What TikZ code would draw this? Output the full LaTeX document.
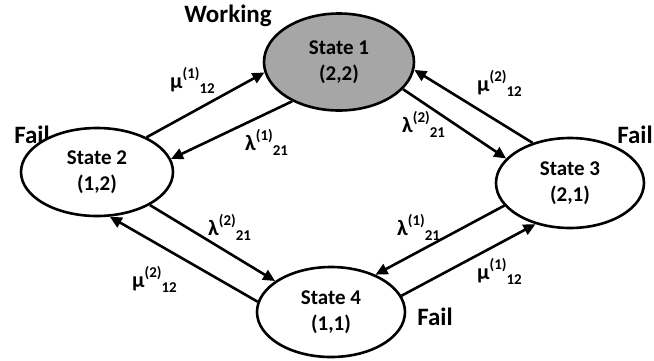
\documentclass[tikz,border=0pt]{standalone}
\usepackage{fontspec}
\setmainfont{Carlito}
\usetikzlibrary{shapes.geometric,arrows.meta}
\definecolor{workfill}{HTML}{A6A6A6}
% rate label: symbol, superscript index, subscript pair
\newcommand{\ratelbl}[3]{#1\raisebox{10pt}{\fontsize{15}{15}\selectfont(#2)}\raisebox{-5pt}{\fontsize{15}{15}\selectfont #3}}
\begin{document}
\begin{tikzpicture}[x=1pt,y=-1pt,
  statenode/.style={ellipse,draw=black,line width=2.6pt,fill=white,inner sep=0pt,
    align=center,font=\fontsize{21}{26}\selectfont\bfseries},
  flow/.style={line width=2.6pt,-{Triangle[length=12pt,width=11pt]}},
  ratetext/.style={anchor=base west,inner sep=0pt,font=\fontsize{22}{24}\selectfont\bfseries},
  tagtext/.style={anchor=base,inner sep=0pt,font=\fontsize{25}{28}\selectfont\bfseries}]
\useasboundingbox (0,0) rectangle (654,360);

% status tags (placed first so the state ellipses sit on top of them)
\node[tagtext] (tw) at (228,22) {Working};
\node[tagtext] (t2) at (32,143) {Fail};
\node[tagtext] (t3) at (635,143) {Fail};
\node[tagtext] (t4) at (435,325) {Fail};

% states
\node[statenode,fill=workfill,minimum width=150pt,minimum height=97pt] (s1) at (339,62) {State 1\\(2,2)};
\node[statenode,minimum width=152pt,minimum height=88pt] (s2) at (97,172) {State 2\\(1,2)};
\node[statenode,minimum width=148pt,minimum height=90pt] (s3) at (570,183) {State 3\\(2,1)};
\node[statenode,minimum width=148pt,minimum height=90pt] (s4) at (331,312) {State 4\\(1,1)};

% transitions
\draw[flow] (s2.35) -- (s1.188);
\draw[flow] (s1.220) -- (s2.10);
\draw[flow] (s3.133) -- (s1.354);
\draw[flow] (s1.337) -- (s3.159);
\draw[flow] (s2.328) -- (s4.151);
\draw[flow] (s4.172) -- (s2.286);
\draw[flow] (s3.199) -- (s4.40);
\draw[flow] (s4.13) -- (s3.230);

% rates
\node[ratetext] (r1) at (170,88) {\ratelbl{μ}{1}{12}};
\node[ratetext] (r2) at (245,150) {\ratelbl{λ}{1}{21}};
\node[ratetext] (r3) at (477,91) {\ratelbl{μ}{2}{12}};
\node[ratetext] (r4) at (402,132) {\ratelbl{λ}{2}{21}};
\node[ratetext] (r5) at (208,235) {\ratelbl{λ}{2}{21}};
\node[ratetext] (r6) at (132,287) {\ratelbl{μ}{2}{12}};
\node[ratetext] (r7) at (397,235) {\ratelbl{λ}{1}{21}};
\node[ratetext] (r8) at (477,279) {\ratelbl{μ}{1}{12}};
\end{tikzpicture}
\end{document}
